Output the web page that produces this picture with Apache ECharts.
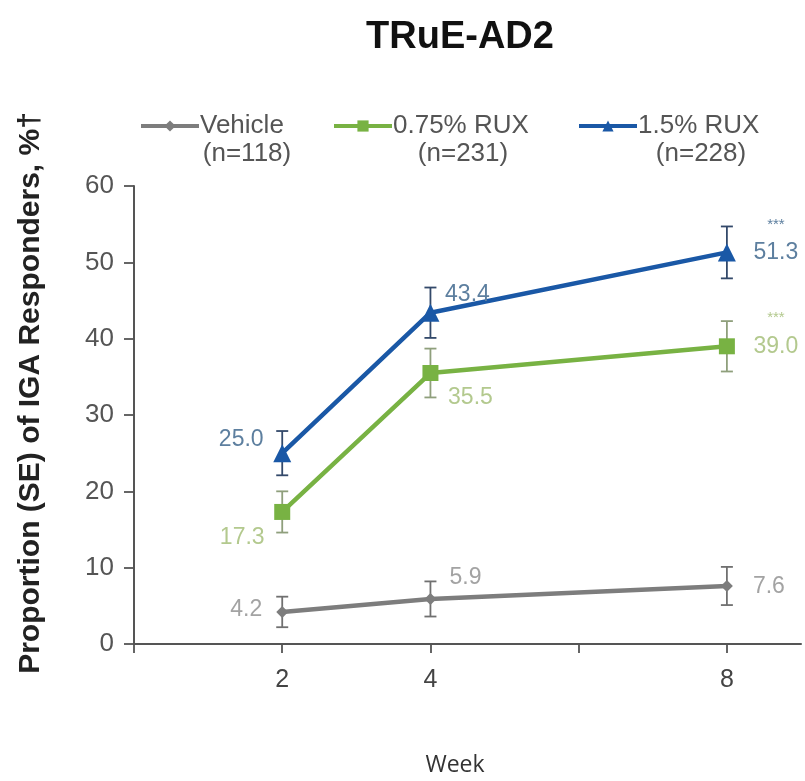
<!DOCTYPE html>
<html>
<head>
<meta charset="utf-8">
<script src="https://cdn.jsdelivr.net/npm/echarts/dist/echarts.min.js"></script>
<style>
  html, body { margin: 0; background: #fff; }
  #chart { width: 805px; height: 781px; }
</style>
</head>
<body>
<div id="chart"></div>
<script>
// data
const weeks = [2, 4, 8];
const vehicle = [4.2, 5.9, 7.6];
const rux075 = [17.3, 35.5, 39.0];
const rux15 = [25.0, 43.4, 51.3];
const vehicleSE = [2.0, 2.3, 2.5];
const rux075SE = [2.7, 3.2, 3.3];
const rux15SE = [2.9, 3.3, 3.4];
const seriesNames = ['Vehicle', '0.75% RUX', '1.5% RUX'];
const sampleSizes = ['(n=118)', '(n=231)', '(n=228)'];
const xTickWeeks = [0, 2, 4, 6, 8];
const xLabelWeeks = [2, 4, 8];
const sigMarks = ['', '***', '***'];

const FONT = '"Liberation Sans", Arial, sans-serif';
const chart = echarts.init(document.getElementById('chart'));

// label offsets (px) around each point
const vehicleOffsets = [[-36, -2], [35, -21], [42, 1]];
const rux075Offsets = [[-40, 26], [40, 25], [49, -15]];
const rux15Offsets = [[-41, -14], [37, -18], [49, -15]];

function lineData(vals, offsets, color, sig) {
  return weeks.map((w, i) => ({
    value: [w, vals[i]],
    label: {
      show: true,
      position: 'inside',
      offset: offsets[i],
      color: color,
      fontFamily: FONT,
      fontSize: 23,
      formatter: (i === 2 && sig) ? ('{s|' + sig + '}\n{v|' + vals[i].toFixed(1) + '}') : vals[i].toFixed(1),
      rich: {
        s: { fontSize: 15, lineHeight: 30, color: color, fontFamily: FONT },
        v: { fontSize: 23, lineHeight: 26, color: color, fontFamily: FONT }
      }
    }
  }));
}

// vertical SE bars with caps, placed through the axes
function errorSeries(vals, se, color) {
  return {
    type: 'custom',
    silent: true,
    z: 1,
    data: weeks.map((w, i) => [w, vals[i] - se[i], vals[i] + se[i]]),
    renderItem: function (params, api) {
      const x = api.value(0);
      const lo = api.coord([x, api.value(1)]);
      const hi = api.coord([x, api.value(2)]);
      const cap = 6;
      const st = { stroke: color, lineWidth: 1.8 };
      return {
        type: 'group',
        children: [
          { type: 'line', shape: { x1: lo[0], y1: lo[1], x2: hi[0], y2: hi[1] }, style: st },
          { type: 'line', shape: { x1: lo[0] - cap, y1: lo[1], x2: lo[0] + cap, y2: lo[1] }, style: st },
          { type: 'line', shape: { x1: hi[0] - cap, y1: hi[1], x2: hi[0] + cap, y2: hi[1] }, style: st }
        ]
      };
    }
  };
}

const colors = ['#7d7d7d', '#78b243', '#1a58a6'];
const labelColors = ['#a3a3a3', '#b3c98e', '#5d7f9f'];
const errColors = ['#707070', '#8f9f7c', '#33496a'];

const option = {
  animation: false,
  title: {
    text: 'TRuE-AD2',
    left: 455,
    top: 14,
    textAlign: 'center',
    textStyle: { fontFamily: FONT, fontSize: 38, fontWeight: 'bold', color: '#111' }
  },
  legend: [0, 1, 2].map(i => ({
    data: [seriesNames[i]],
    left: [134, 327, 572][i],
    top: 108,
    itemWidth: 58,
    itemHeight: 14,
    itemGap: 0,
    lineStyle: { width: 4 },
    textStyle: { fontFamily: FONT, fontSize: 26, color: '#555', padding: [0, 0, 0, -4] }
  })),
  grid: { left: 134, right: 4, top: 186, bottom: 137 },
  xAxis: {
    type: 'value',
    min: 0,
    max: 9,
    interval: 2,
    axisLine: { lineStyle: { color: '#555', width: 2 } },
    axisTick: { customValues: xTickWeeks, length: 9, lineStyle: { color: '#555', width: 1.8 } },
    axisLabel: { customValues: xLabelWeeks, margin: 24, fontFamily: FONT, fontSize: 25, color: '#444' },
    splitLine: { show: false }
  },
  yAxis: {
    type: 'value',
    min: 0,
    max: 60,
    interval: 10,
    axisLine: { show: true, lineStyle: { color: '#555', width: 2 } },
    axisTick: { show: true, length: 10, lineStyle: { color: '#555', width: 1.8 } },
    axisLabel: { margin: 20, fontFamily: FONT, fontSize: 26, color: '#555' },
    splitLine: { show: false }
  },
  series: [
    errorSeries(vehicle, vehicleSE, errColors[0]),
    errorSeries(rux075, rux075SE, errColors[1]),
    errorSeries(rux15, rux15SE, errColors[2]),
    {
      name: seriesNames[0], type: 'line', z: 3,
      symbol: 'diamond', symbolSize: 12,
      lineStyle: { color: colors[0], width: 4.5 },
      itemStyle: { color: colors[0] },
      data: lineData(vehicle, vehicleOffsets, labelColors[0], sigMarks[0])
    },
    {
      name: seriesNames[1], type: 'line', z: 3,
      symbol: 'rect', symbolSize: 16,
      lineStyle: { color: colors[1], width: 4.5 },
      itemStyle: { color: colors[1] },
      data: lineData(rux075, rux075Offsets, labelColors[1], sigMarks[1])
    },
    {
      name: seriesNames[2], type: 'line', z: 4,
      symbol: 'triangle', symbolSize: 18,
      lineStyle: { color: colors[2], width: 4.5 },
      itemStyle: { color: colors[2] },
      data: lineData(rux15, rux15Offsets, labelColors[2], sigMarks[2])
    }
  ],
  graphic: [
    {
      type: 'text', x: 31, y: 393, rotation: Math.PI / 2,
      style: {
        text: 'Proportion (SE) of IGA Responders, %\u2020',
        align: 'center', verticalAlign: 'middle',
        font: 'bold 30px "Liberation Sans", Arial, sans-serif', fill: '#222'
      }
    },
    {
      type: 'text', x: 455, y: 765,
      style: { text: 'Week', align: 'center', verticalAlign: 'middle', font: '23px "Open Sans", "Liberation Sans", sans-serif', fill: '#333' }
    }
  ].concat([0, 1, 2].map(i => ({
    type: 'text', x: [247, 463, 701][i], y: 154,
    style: { text: sampleSizes[i], align: 'center', verticalAlign: 'middle', font: '26px ' + FONT, fill: '#555' }
  })))
};

chart.setOption(option);
</script>
</body>
</html>
